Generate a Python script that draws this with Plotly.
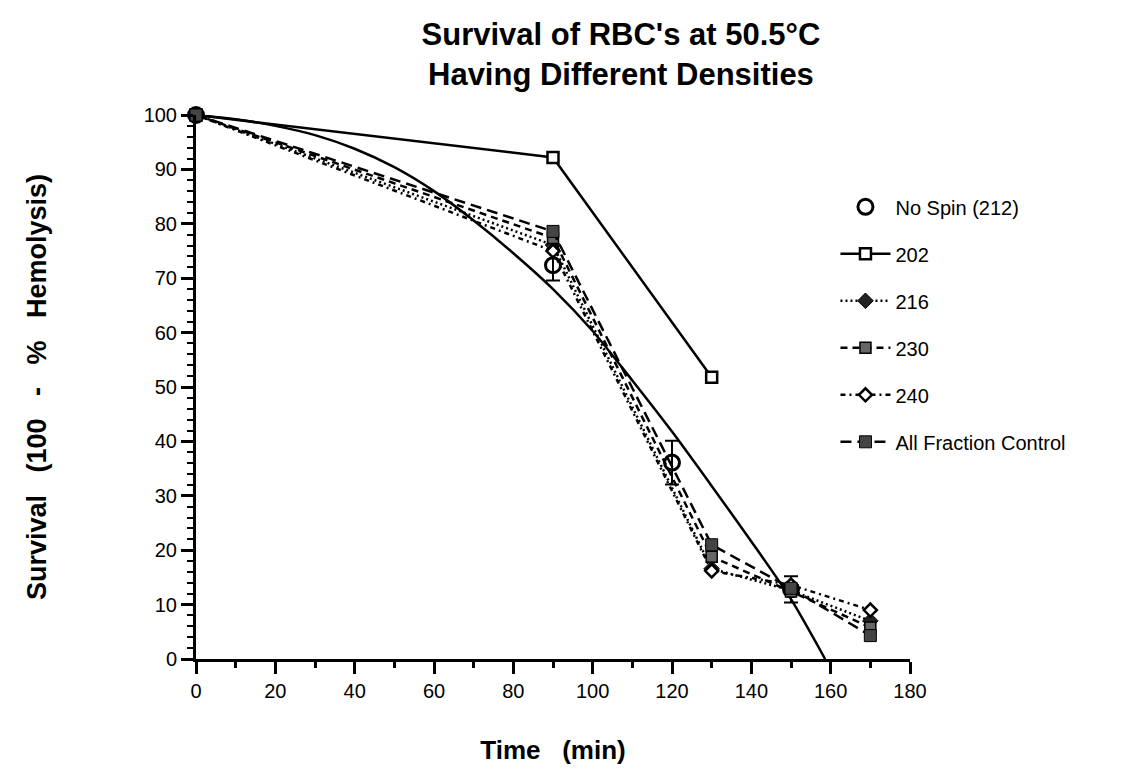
import plotly.graph_objects as go

# ---- data ----
t_nospin = [0, 90, 120, 150]
y_nospin = [100, 72.4, 36.1, 12.8]
err_nospin = [0, 2.8, 4.0, 2.4]

t_fit = [0, 10, 20, 30, 40, 50, 60, 70, 80, 90, 100, 110, 120, 130, 140, 150, 158.6]
y_fit = [100, 99.2, 98.0, 96.3, 93.8, 90.4, 86.0, 80.6, 74.6, 68.0, 60.3, 51.2, 41.8, 31.8, 21.6, 11.0, 0]

t_202 = [0, 90, 130]
y_202 = [100, 92.2, 51.8]

t_dens = [0, 90, 130, 150, 170]
y_216 = [100, 76.1, 16.6, 12.6, 7.0]
y_230 = [100, 77.4, 18.8, 12.4, 5.8]
y_240 = [100, 75.0, 16.2, 13.6, 9.0]
y_afc = [100, 78.6, 21.0, 13.0, 4.3]

x_ticks = list(range(0, 181, 20))
y_ticks = list(range(0, 101, 10))

FONT = "Liberation Sans, Arial, Helvetica, sans-serif"
SP = "\u00a0"

fig = go.Figure()

fig.add_trace(go.Scatter(
    x=t_fit, y=y_fit, mode="lines",
    line=dict(color="black", width=2.5, shape="spline", smoothing=0.7),
    showlegend=False, hoverinfo="skip", cliponaxis=False))

fig.add_trace(go.Scatter(
    x=t_nospin, y=y_nospin, mode="markers", name="No Spin (212)",
    marker=dict(symbol="circle-open", size=15, color="black", line=dict(width=3)),
    error_y=dict(type="data", array=err_nospin, visible=True, color="black", thickness=2, width=7),
    cliponaxis=False, legendgroup="a"))

fig.add_trace(go.Scatter(
    x=t_202, y=y_202, mode="lines+markers", name="202",
    line=dict(color="black", width=2.5),
    marker=dict(symbol="square", size=11, color="white", line=dict(color="black", width=2.5)),
    cliponaxis=False, legendgroup="b"))

fig.add_trace(go.Scatter(
    x=t_dens, y=y_216, mode="lines+markers", name="216",
    line=dict(color="black", width=2.5, dash="2px,3px"),
    marker=dict(symbol="diamond", size=12, color="#222", line=dict(color="black", width=1)),
    cliponaxis=False, legendgroup="c"))

fig.add_trace(go.Scatter(
    x=t_dens, y=y_230, mode="lines+markers", name="230",
    line=dict(color="black", width=2.5, dash="7px,5px"),
    marker=dict(symbol="square", size=11, color="#666", line=dict(color="black", width=1.5)),
    cliponaxis=False, legendgroup="d"))

fig.add_trace(go.Scatter(
    x=t_dens, y=y_240, mode="lines+markers", name="240",
    line=dict(color="black", width=2.5, dash="5px,4px,2px,4px"),
    marker=dict(symbol="diamond", size=10, color="white", line=dict(color="black", width=2.5)),
    cliponaxis=False, legendgroup="e"))

fig.add_trace(go.Scatter(
    x=t_dens, y=y_afc, mode="lines+markers", name="All Fraction Control",
    line=dict(color="black", width=2.5, dash="11px,6px"),
    marker=dict(symbol="square", size=12, color="#444", line=dict(color="black", width=1)),
    cliponaxis=False, legendgroup="f"))

fig.update_layout(
    width=1129, height=774,
    margin=dict(l=196, r=219, t=115, b=115, autoexpand=False),
    paper_bgcolor="white", plot_bgcolor="white",
    font=dict(family=FONT, color="black", size=20),
    title=dict(
        text="<b>Survival of RBC's at 50.5°C<br>Having Different Densities</b>",
        x=0.55, xanchor="center", xref="container",
        y=0.942, yanchor="top", yref="container",
        font=dict(family=FONT, size=31, color="black")),
    legend=dict(
        xref="container", yref="container", x=0.74, y=0.758, xanchor="left", yanchor="top",
        font=dict(family=FONT, size=20, color="black"),
        tracegroupgap=18, itemwidth=50, bgcolor="rgba(0,0,0,0)"),
    showlegend=True,
)

fig.update_xaxes(
    range=[0, 180], tickvals=x_ticks, ticktext=[str(v) for v in x_ticks],
    showgrid=False, zeroline=False, showline=True, linecolor="black", linewidth=3,
    ticks="outside", ticklen=12, tickwidth=3, tickcolor="black",
    minor=dict(dtick=10, ticks="outside", ticklen=6, tickwidth=3, tickcolor="black"),
    tickfont=dict(size=20, family=FONT),
    title=dict(text="<b>Time" + SP * 3 + "(min)</b>", font=dict(size=26, family=FONT), standoff=40),
)

fig.update_yaxes(
    range=[0, 100], tickvals=y_ticks, ticktext=[str(v) for v in y_ticks],
    showgrid=False, zeroline=False, showline=True, linecolor="black", linewidth=3,
    ticks="outside", ticklen=12, tickwidth=3, tickcolor="black",
    minor=dict(dtick=2, ticks="outside", ticklen=6, tickwidth=2, tickcolor="black"),
    tickfont=dict(size=20, family=FONT),
    title=dict(text="<b>Survival" + SP * 3 + "(100" + SP * 3 + "-" + SP * 3 + "%" + SP * 3 + "Hemolysis)</b>",
               font=dict(size=27, family=FONT), standoff=90),
)

fig.write_html("out.html")
